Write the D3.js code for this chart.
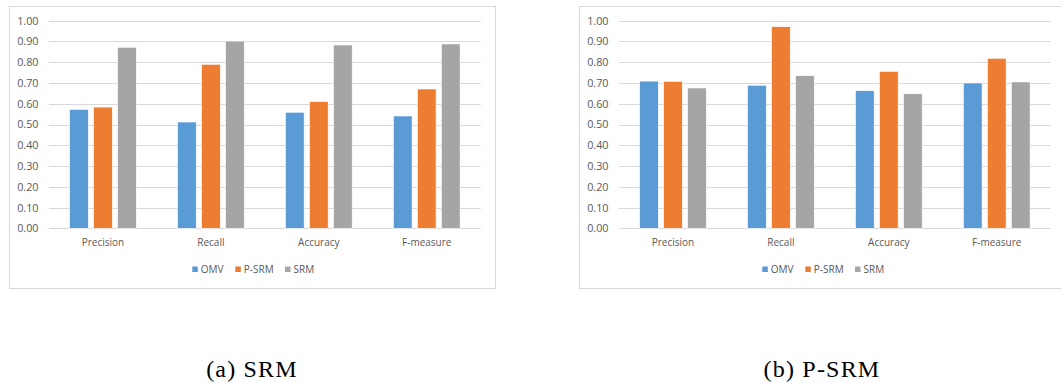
<!DOCTYPE html>
<html>
<head>
<meta charset="utf-8">
<script src="https://cdn.jsdelivr.net/npm/d3@7"></script>
<style>
  html, body { margin: 0; padding: 0; background: #fff; }
  svg { display: block; }
</style>
</head>
<body>
<script>
// Metric categories along the x axis
const categories = ["Precision", "Recall", "Accuracy", "F-measure"];
// Methods compared in each group
const seriesNames = ["OMV", "P-SRM", "SRM"];
const seriesColors = ["#5B9BD5", "#ED7D31", "#A5A5A5"];
// y-axis tick values
const yTicks = [0, 0.1, 0.2, 0.3, 0.4, 0.5, 0.6, 0.7, 0.8, 0.9, 1.0];

// (a) SRM — one row per series, one value per category
const srmOMV  = [0.573, 0.512, 0.559, 0.541];
const srmPSRM = [0.584, 0.790, 0.610, 0.671];
const srmSRM  = [0.872, 0.902, 0.883, 0.888];

// (b) P-SRM
const psrmOMV  = [0.709, 0.689, 0.663, 0.700];
const psrmPSRM = [0.708, 0.971, 0.756, 0.819];
const psrmSRM  = [0.676, 0.735, 0.648, 0.705];

const captions = ["(a) SRM", "(b) P-SRM"];

const W = 1061, H = 383;
const svg = d3.select("body").append("svg").attr("width", W).attr("height", H);

const textColor = "#595959";
const gridColor = "#d9d9d9";
const font = "'Open Sans', sans-serif";

function drawChart(offsetX, rows, caption) {
  const g = svg.append("g").attr("transform", `translate(${offsetX},0)`);

  // chart frame
  g.append("rect")
    .attr("x", 9.5).attr("y", 6.5)
    .attr("width", 486).attr("height", 282)
    .attr("fill", "#fff").attr("stroke", gridColor).attr("stroke-width", 1);

  const plotL = 49, plotR = 480.7, plotT = 20.7, plotB = 228.3;

  const y = d3.scaleLinear().domain([0, 1]).range([plotB, plotT]);
  const x0 = d3.scaleBand().domain(categories).range([plotL, plotR]).padding(0);
  const x1 = d3.scaleBand().domain(seriesNames).range([0, x0.bandwidth()])
    .paddingInner(0.22).paddingOuter(0.858);

  // horizontal gridlines
  g.append("g").selectAll("line").data(yTicks).join("line")
    .attr("x1", plotL).attr("x2", plotR)
    .attr("y1", d => Math.round(y(d)) + 0.5).attr("y2", d => Math.round(y(d)) + 0.5)
    .attr("stroke", gridColor).attr("stroke-width", 1);

  // y axis labels
  const yAxis = d3.axisLeft(y).tickValues(yTicks).tickFormat(d3.format(".2f"))
    .tickSize(0).tickPadding(10.5);
  const ya = g.append("g").attr("transform", `translate(${plotL},0)`).call(yAxis);
  ya.select(".domain").remove();
  ya.selectAll("text").attr("fill", textColor).attr("font-size", 10.8)
    .attr("font-family", font);

  // bars
  const data = categories.map((c, i) => ({
    cat: c,
    vals: seriesNames.map((s, j) => ({ s, j, v: rows[j][i] }))
  }));
  g.append("g").selectAll("g").data(data).join("g")
    .attr("transform", d => `translate(${x0(d.cat)},0)`)
    .selectAll("rect").data(d => d.vals).join("rect")
    .attr("x", d => x1(d.s))
    .attr("width", x1.bandwidth())
    .attr("y", d => y(d.v))
    .attr("height", d => y(0) - y(d.v))
    .attr("fill", d => seriesColors[d.j])
    .attr("stroke", "#fff").attr("stroke-width", 0.6);

  // x axis labels
  const xAxis = d3.axisBottom(x0).tickSize(0).tickPadding(11);
  const xa = g.append("g").attr("transform", `translate(0,${plotB})`).call(xAxis);
  xa.select(".domain").remove();
  xa.selectAll("text").attr("fill", textColor).attr("font-size", 10)
    .attr("font-family", font);

  // legend
  const legendX = [192.3, 235.3, 285];
  const lg = g.append("g");
  seriesNames.forEach((s, j) => {
    lg.append("rect").attr("x", legendX[j]).attr("y", 266.5)
      .attr("width", 5.5).attr("height", 5.5).attr("fill", seriesColors[j]);
    lg.append("text").attr("x", legendX[j] + 8.5).attr("y", 273)
      .attr("font-size", 10).attr("font-family", font).attr("fill", textColor)
      .text(s);
  });

  // caption
  g.append("text").attr("x", 252).attr("y", 376.5)
    .attr("text-anchor", "middle")
    .attr("font-family", "'Liberation Serif', 'Times New Roman', serif")
    .attr("font-size", 24).attr("letter-spacing", 1.2).attr("fill", "#000")
    .text(caption);
}

drawChart(0, [srmOMV, srmPSRM, srmSRM], captions[0]);
drawChart(570, [psrmOMV, psrmPSRM, psrmSRM], captions[1]);
</script>
</body>
</html>
